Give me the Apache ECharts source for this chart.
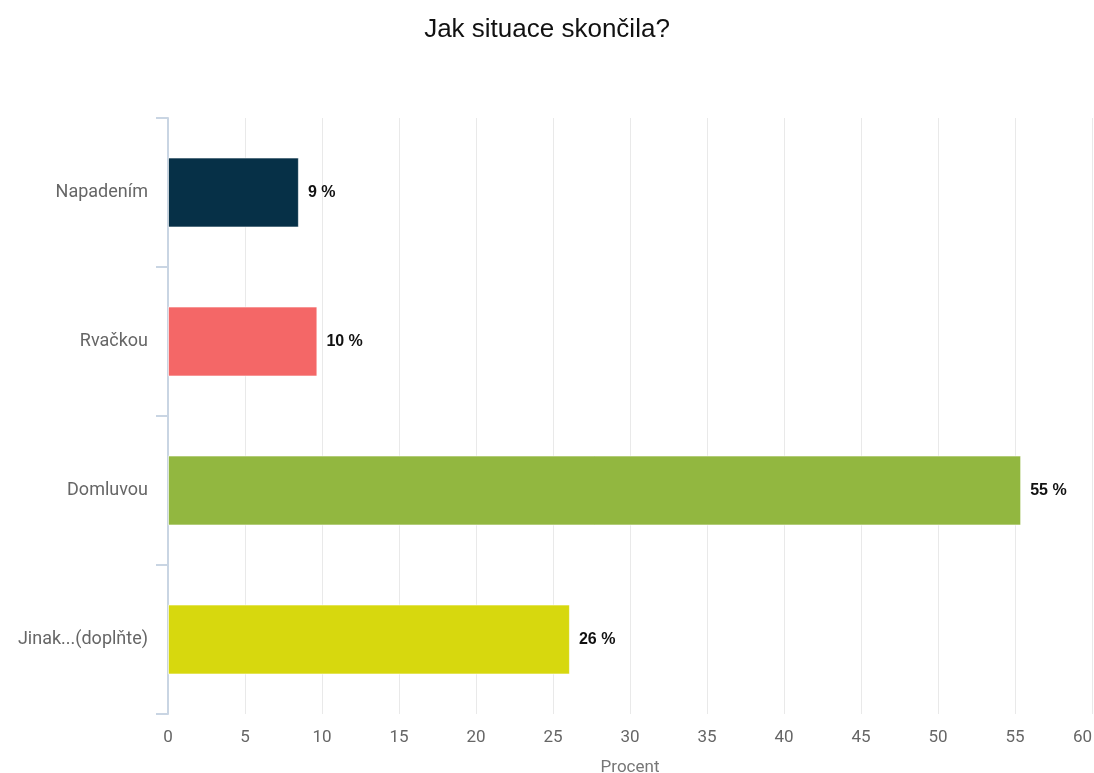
<!DOCTYPE html>
<html>
<head>
<meta charset="utf-8">
<script src="https://cdn.jsdelivr.net/npm/echarts@6/dist/echarts.min.js"></script>
<style>
  html, body { margin: 0; padding: 0; background: #fff; }
  #chart { width: 1094px; height: 773px; }
</style>
</head>
<body>
<div id="chart"></div>
<script>
// Survey answers: how the situation ended (share of respondents, %)
const categories = ['Napadením', 'Rvačkou', 'Domluvou', 'Jinak...(doplňte)'];
const values = [8.5, 9.7, 55.4, 26.1];
const barColors = ['#063047', '#f46767', '#92b740', '#d7d80e'];
const xTicks = { min: 0, max: 60, interval: 5 };

const chart = echarts.init(document.getElementById('chart'));
chart.setOption({
  animation: false,
  title: {
    text: 'Jak situace skončila?',
    left: 'center',
    top: 12,
    textStyle: { fontFamily: 'Liberation Sans, Arial, sans-serif', fontSize: 26, fontWeight: 'normal', color: '#111' }
  },
  grid: { left: 168, right: 2, top: 118, bottom: 59, containLabel: false, outerBoundsMode: 'none' },
  xAxis: {
    type: 'value',
    min: xTicks.min, max: xTicks.max, interval: xTicks.interval,
    name: 'Procent',
    nameLocation: 'middle',
    nameGap: 45,
    nameTextStyle: { fontFamily: 'Roboto, sans-serif', fontSize: 17, color: '#777' },
    axisLine: { show: false },
    axisTick: { show: false },
    axisLabel: { fontFamily: 'Roboto, sans-serif', fontSize: 17, color: '#666', margin: 15, alignMaxLabel: 'right' },
    splitLine: { show: true, lineStyle: { color: '#e9e9e9', width: 1 } }
  },
  yAxis: {
    type: 'category',
    data: categories,
    inverse: true,
    axisLine: { show: true, lineStyle: { color: '#c9d5e3', width: 2 } },
    axisTick: { show: true, length: 12, lineStyle: { color: '#c9d5e3', width: 2 } },
    axisLabel: { fontFamily: 'Roboto, sans-serif', fontSize: 18, color: '#666', margin: 20 },
    splitLine: { show: false }
  },
  series: [{
    type: 'bar',
    data: values.map((v, i) => ({ value: v, itemStyle: { color: barColors[i] } })),
    barWidth: 70,
    itemStyle: { borderColor: 'rgba(255,255,255,0.6)', borderWidth: 1 },
    label: {
      show: true,
      position: 'right',
      distance: 9,
      formatter: p => Math.round(p.value) + ' %',
      fontFamily: 'Liberation Sans, Arial, sans-serif',
      fontSize: 16,
      fontWeight: 'bold',
      color: '#111'
    }
  }]
});
</script>
</body>
</html>
